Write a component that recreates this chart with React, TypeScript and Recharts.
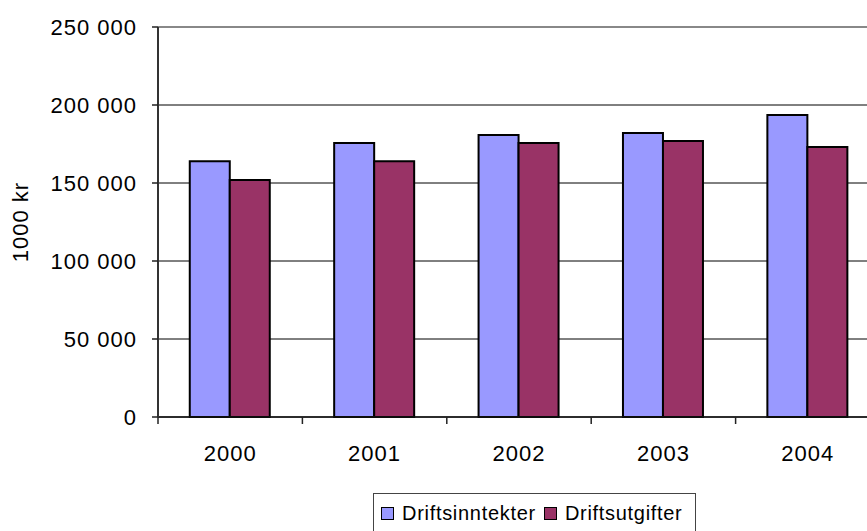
import React from 'react';
import { BarChart, Bar, XAxis, YAxis, CartesianGrid, Legend, ReferenceLine } from 'recharts';

const years = ['2000', '2001', '2002', '2003', '2004'];
const driftsinntekter = [164000, 175600, 180800, 182000, 193600];
const driftsutgifter = [152000, 164000, 175600, 176900, 173100];
const yTicks = [0, 50000, 100000, 150000, 200000, 250000];

const data = years.map((year, i) => ({
  year,
  Driftsinntekter: driftsinntekter[i],
  Driftsutgifter: driftsutgifter[i]
}));

const FONT = '"Liberation Sans", Arial, sans-serif';

const formatThousands = (v: number) =>
  String(v).replace(/\B(?=(\d{3})+(?!\d))/g, ' ');

const CategoryTick = (props: any) => {
  const { x, y, payload } = props;
  const half = payload.offset || 0;
  return (
    <g>
      <line x1={x - half} x2={x - half} y1={y} y2={y + 7} stroke="#222" strokeWidth={1.5} />
      <text x={x} y={y + 44} textAnchor="middle" fontSize={22} letterSpacing={1} fill="#000" fontFamily={FONT}>
        {payload.value}
      </text>
    </g>
  );
};

const YLabel = (props: any) => {
  const { viewBox } = props;
  const cy = viewBox.y + viewBox.height / 2;
  const cx = 20;
  return (
    <text
      x={cx}
      y={cy}
      transform={`rotate(-90 ${cx} ${cy})`}
      textAnchor="middle"
      dominantBaseline="central"
      fontSize={22}
      letterSpacing={1}
      fill="#000"
      fontFamily={FONT}
    >
      1000 kr
    </text>
  );
};

const LegendBox = (props: any) => {
  const { payload } = props;
  return (
    <div
      style={{
        display: 'flex',
        alignItems: 'center',
        height: 40,
        padding: '0 7px',
        border: '1px solid #444',
        background: '#fff',
        boxSizing: 'border-box',
        fontFamily: FONT,
        fontSize: 20,
        letterSpacing: 0.7,
        color: '#000',
        whiteSpace: 'nowrap'
      }}
    >
      {payload.map((entry: any, i: number) => (
        <span key={entry.value} style={{ display: 'flex', alignItems: 'center', marginLeft: i === 0 ? 0 : 8 }}>
          <span
            style={{
              display: 'inline-block',
              width: 11,
              height: 11,
              background: entry.color,
              border: '1px solid #000',
              marginRight: 8
            }}
          />
          {entry.value}
        </span>
      ))}
    </div>
  );
};

export default function App() {
  return (
    <div
      style={{
        position: 'absolute',
        left: 0,
        top: 0,
        width: 867,
        height: 531,
        overflow: 'hidden',
        background: '#fff',
        fontFamily: FONT
      }}
    >
      <BarChart
        width={890}
        height={540}
        data={data}
        margin={{ top: 27, right: 10, left: 0, bottom: 93 }}
        barCategoryGap="22%"
        barGap={0}
      >
        <CartesianGrid vertical={false} stroke="#000" strokeWidth={1} />
        <ReferenceLine y={250000} stroke="#888" strokeWidth={2} />
        <XAxis
          dataKey="year"
          height={30}
          tickLine={false}
          tickSize={0}
          tickMargin={0}
          axisLine={{ stroke: '#111', strokeWidth: 1.5 }}
          tick={<CategoryTick />}
          interval={0}
        />
        <YAxis
          width={158}
          domain={[0, 250000]}
          ticks={yTicks}
          tickFormatter={formatThousands}
          tickSize={6}
          tickMargin={15}
          tickLine={{ stroke: '#222', strokeWidth: 1.5 }}
          axisLine={{ stroke: '#333', strokeWidth: 2 }}
          tick={{ fontSize: 22, fill: '#000', letterSpacing: 1, fontFamily: FONT }}
          label={<YLabel />}
        />
        <Legend
          layout="horizontal"
          verticalAlign="middle"
          align="center"
          content={<LegendBox />}
          wrapperStyle={{ left: 373, top: 493, width: 323, height: 40 }}
        />
        <Bar dataKey="Driftsinntekter" fill="#9999FF" stroke="#000" strokeWidth={2} isAnimationActive={false} />
        <Bar dataKey="Driftsutgifter" fill="#993366" stroke="#000" strokeWidth={2} isAnimationActive={false} />
      </BarChart>
    </div>
  );
}
